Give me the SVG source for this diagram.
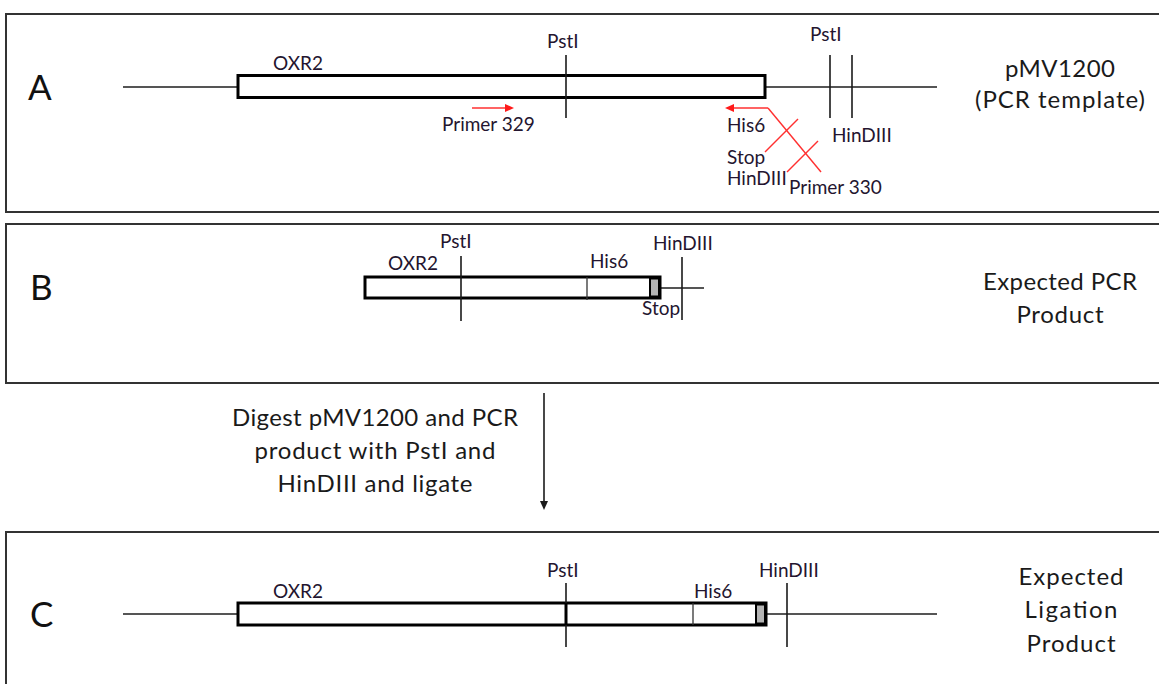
<svg xmlns="http://www.w3.org/2000/svg" width="1159" height="684" viewBox="0 0 1159 684">
<style>
  .panel { fill: #ffffff; stroke: #333333; stroke-width: 2; }
  .gene { fill: #ffffff; stroke: #000000; stroke-width: 3; }
  .stop { fill: #b4b4b4; stroke: #000000; stroke-width: 2; }
  .bb { stroke: #555555; stroke-width: 2; fill: none; }
  .site { stroke: #1a1a1a; stroke-width: 1.6; fill: none; }
  .thin { stroke: #333333; stroke-width: 1.3; fill: none; }
  .red { stroke: #ff3030; stroke-width: 1.4; fill: none; }
  .redhead { fill: #ff1a1a; }
  .lbl { font-family: Lato, "Liberation Sans", sans-serif; font-size: 19px; fill: #24152f; }
  .big { font-family: Lato, "Liberation Sans", sans-serif; font-size: 24px; fill: #1a1a1a; text-anchor: middle; }
  .letter { font-family: Lato, "Liberation Sans", sans-serif; font-size: 35px; fill: #111111; }
</style>
<rect x="0" y="0" width="1159" height="684" fill="#ffffff"/>

<g id="panel-A">
  <rect class="panel" x="6" y="14" width="1165" height="198"/>
  <text class="letter" x="28" y="100">A</text>
  <g id="A-template">
    <line class="bb" x1="123" y1="87" x2="238" y2="87"/>
    <line class="bb" x1="765" y1="87" x2="937" y2="87"/>
    <rect class="gene" x="238" y="75.5" width="527" height="22"/>
    <line class="site" x1="566" y1="55" x2="566" y2="118"/>
    <line class="site" x1="830" y1="55" x2="830" y2="118"/>
    <line class="site" x1="852" y1="55" x2="852" y2="118"/>
    <text class="lbl" x="273" y="70">OXR2</text>
    <text class="lbl" x="547" y="48">PstI</text>
    <text class="lbl" x="810" y="41">PstI</text>
    <text class="lbl" x="832" y="142">HinDIII</text>
  </g>
  <g id="A-primer329">
    <line class="red" x1="472" y1="108" x2="507" y2="108"/>
    <polygon class="redhead" points="514,108 505,104 505,112"/>
    <text class="lbl" x="442" y="131">Primer 329</text>
  </g>
  <g id="A-primer330">
    <line class="red" x1="768" y1="108" x2="732" y2="108"/>
    <polygon class="redhead" points="725,108 734,104 734,112"/>
    <line class="red" x1="768" y1="108" x2="821" y2="172"/>
    <line class="red" x1="765" y1="152" x2="798" y2="119"/>
    <line class="red" x1="787" y1="172" x2="818" y2="141"/>
    <text class="lbl" x="727" y="132">His6</text>
    <text class="lbl" x="727" y="164">Stop</text>
    <text class="lbl" x="727" y="185">HinDIII</text>
    <text class="lbl" x="789" y="194">Primer 330</text>
  </g>
  <g id="A-title">
    <text class="big" x="1060" y="77" textLength="110">pMV1200</text>
    <text class="big" x="1060" y="108" textLength="170">(PCR template)</text>
  </g>
</g>

<g id="panel-B">
  <rect class="panel" x="6" y="224" width="1165" height="159"/>
  <text class="letter" x="30" y="300">B</text>
  <g id="B-product">
    <line class="bb" x1="660" y1="288" x2="704" y2="288"/>
    <rect class="gene" x="365" y="277" width="295" height="21"/>
    <rect class="stop" x="650" y="278.5" width="9" height="18"/>
    <line class="thin" x1="587" y1="277" x2="587" y2="300"/>
    <line class="site" x1="461" y1="256" x2="461" y2="321"/>
    <line class="site" x1="682" y1="257" x2="682" y2="320"/>
    <text class="lbl" x="388" y="270">OXR2</text>
    <text class="lbl" x="440" y="248">PstI</text>
    <text class="lbl" x="590" y="268">His6</text>
    <text class="lbl" x="653" y="250">HinDIII</text>
    <text class="lbl" x="642" y="315">Stop</text>
  </g>
  <g id="B-title">
    <text class="big" x="1060" y="290" textLength="154">Expected PCR</text>
    <text class="big" x="1060" y="323" textLength="87">Product</text>
  </g>
</g>

<g id="connectors">
  <line x1="544" y1="393" x2="544" y2="502" stroke="#1a1a1a" stroke-width="1.6"/>
  <polygon points="544,510 540,501 548,501" fill="#1a1a1a"/>
</g>
<g id="digest-label">
  <text class="big" x="375" y="426" textLength="286">Digest pMV1200 and PCR</text>
  <text class="big" x="375" y="459" textLength="241">product with PstI and</text>
  <text class="big" x="375" y="492" textLength="195">HinDIII and ligate</text>
</g>

<g id="panel-C">
  <rect class="panel" x="6" y="532" width="1165" height="160"/>
  <text class="letter" x="30" y="627">C</text>
  <g id="C-ligation">
    <line class="bb" x1="123" y1="614" x2="238" y2="614"/>
    <line class="bb" x1="766" y1="614" x2="937" y2="614"/>
    <rect class="gene" x="238" y="603" width="528" height="22"/>
    <rect class="stop" x="756" y="604.5" width="9" height="19"/>
    <line class="thin" x1="693" y1="603" x2="693" y2="625"/>
    <line class="site" x1="566" y1="583" x2="566" y2="647"/>
    <line x1="566" y1="603" x2="566" y2="625" stroke="#000" stroke-width="3"/>
    <line class="site" x1="787" y1="583" x2="787" y2="647"/>
    <text class="lbl" x="273" y="598">OXR2</text>
    <text class="lbl" x="547" y="577">PstI</text>
    <text class="lbl" x="694" y="598">His6</text>
    <text class="lbl" x="759" y="577">HinDIII</text>
  </g>
  <g id="C-title">
    <text class="big" x="1071" y="585" textLength="105">Expected</text>
    <text class="big" x="1071" y="618" textLength="93">Ligation</text>
    <text class="big" x="1071" y="652" textLength="89">Product</text>
  </g>
</g>
</svg>
